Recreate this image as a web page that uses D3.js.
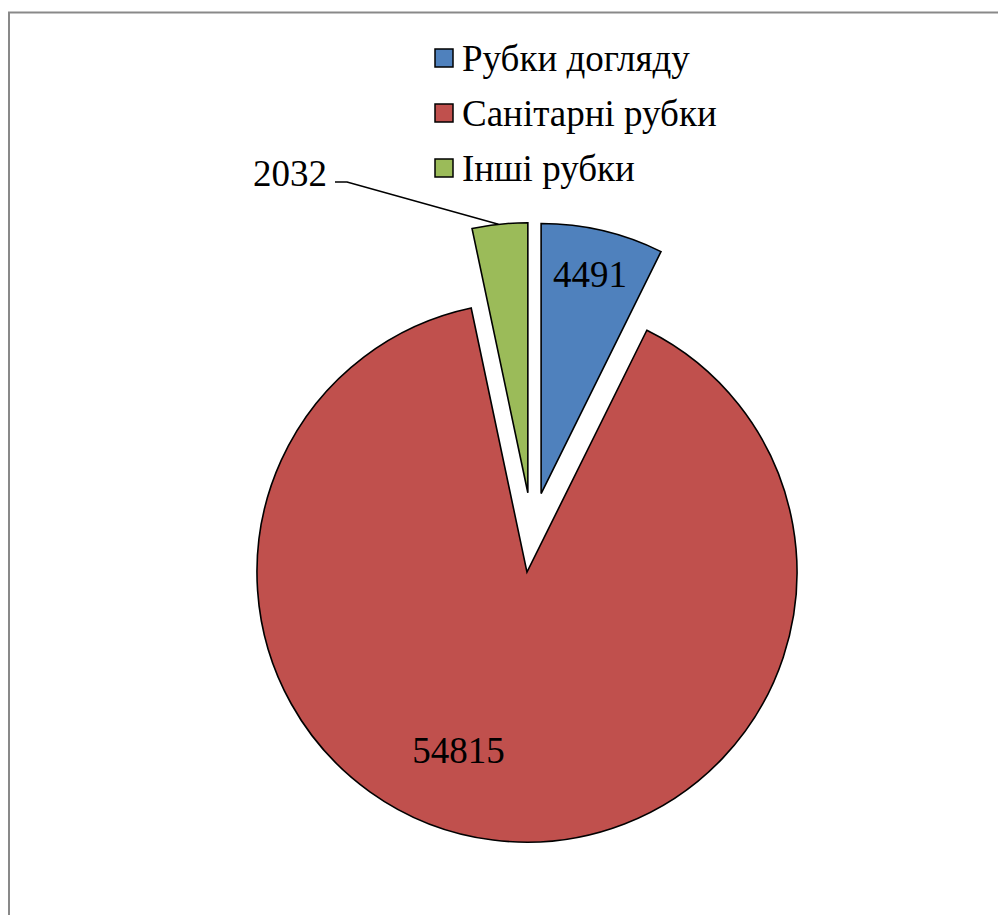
<!DOCTYPE html>
<html><head><meta charset="utf-8">
<script src="https://cdn.jsdelivr.net/npm/d3@7"></script>
<style>html,body{margin:0;padding:0;background:#fff;}
svg text{font-family:"Liberation Serif","Times New Roman",Tinos,serif !important;}
</style>
</head><body>
<script>
const categories = ["Рубки догляду", "Санітарні рубки", "Інші рубки"];
const values = [4491, 54815, 2032];
const colors = ["#4F81BD", "#C0504D", "#9BBB59"];

const W = 998, H = 915;
const FONT = '"Liberation Serif", "Times New Roman", Tinos, serif';
const svg = d3.select("body").append("svg").attr("width", W).attr("height", H);
svg.append("rect").attr("x", 9).attr("y", 12.5).attr("width", 2000).attr("height", 2000)
  .attr("fill", "none").attr("stroke", "#898989").attr("stroke-width", 2);

function label(parent, x, y, txt, fs, anchor) {
  parent.append("text").attr("x", x).attr("y", y).attr("text-anchor", anchor)
    .attr("font-family", FONT).style("font-family", FONT, "important")
    .attr("font-size", fs).attr("fill", "#000").text(txt);
}

const cx = 532, cy = 532.5, R = 270, explode = 40;
const pie = d3.pie().sort(null).value(d => d)(values);
const arc = d3.arc().innerRadius(0).outerRadius(R);

const g = svg.append("g").attr("transform", `translate(${cx},${cy})`);
const off = d => { const m = (d.startAngle + d.endAngle) / 2; return [explode * Math.sin(m), -explode * Math.cos(m)]; };

g.selectAll("path.slice").data(pie).enter().append("path")
  .attr("transform", d => { const o = off(d); return `translate(${o[0]},${o[1]})`; })
  .attr("d", arc).attr("fill", (d, i) => colors[i])
  .attr("stroke", "#000").attr("stroke-width", 1.6).attr("stroke-linejoin", "miter");

// label layout: [radius fraction, angle shift in radians]
const labelLayout = [[0.83, -0.01], [0.71, 0.24], null];
pie.forEach((d, i) => {
  const o = off(d);
  const m = (d.startAngle + d.endAngle) / 2;
  if (labelLayout[i]) {
    const [f, s] = labelLayout[i];
    const a = m + s;
    const x = o[0] + f * R * Math.sin(a), y = o[1] - f * R * Math.cos(a);
    label(g, x, y + 12, values[i], 37, "middle");
  } else {
    const ax = o[0] + R * Math.sin(m - 0.005), ay = o[1] - R * Math.cos(m - 0.005);
    const lx = 335 - cx, ly = 182 - cy;
    g.append("polyline").attr("points", `${lx},${ly} ${lx + 12},${ly} ${ax},${ay}`)
      .attr("fill", "none").attr("stroke", "#000").attr("stroke-width", 1.6);
    label(g, lx - 8, ly + 4, values[i], 37, "end");
  }
});

// legend
categories.forEach((c, i) => {
  const y0 = 49 + i * 55;
  svg.append("rect").attr("x", 435).attr("y", y0).attr("width", 18).attr("height", 18)
    .attr("fill", colors[i]).attr("stroke", "#000").attr("stroke-width", 1.5);
  label(svg, 462, y0 + 22, c, 37, "start");
});
</script>
</body></html>
